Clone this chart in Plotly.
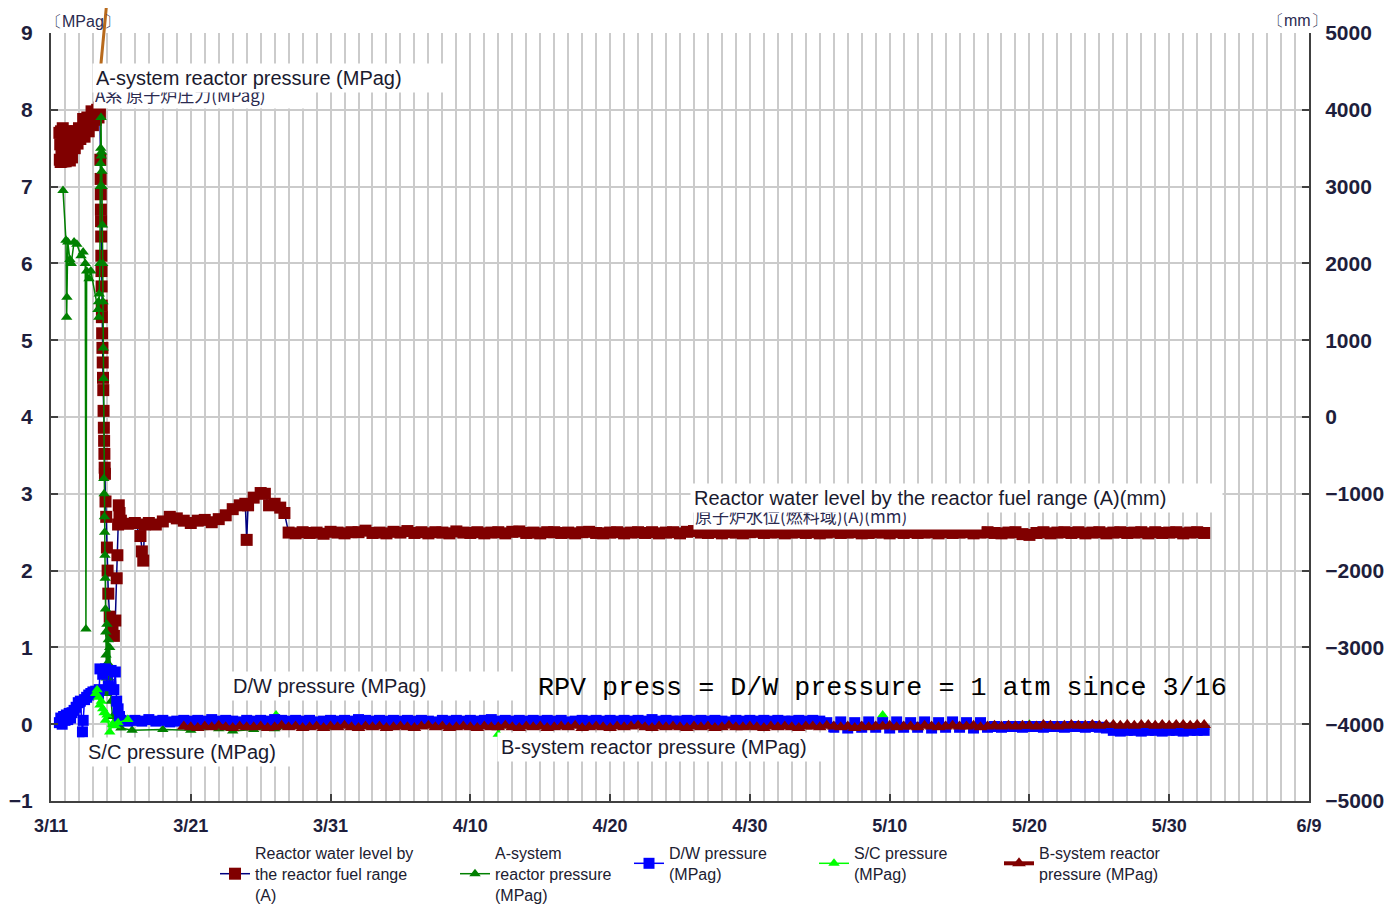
import pandas as pd
import plotly.graph_objects as go

BASE = pd.Timestamp("2011-03-11")

# ---------------- axis labels ----------------
x_tick_days = [0, 10, 20, 30, 40, 50, 60, 70, 80, 90]
x_tick_labels = ["3/11", "3/21", "3/31", "4/10", "4/20", "4/30", "5/10", "5/20", "5/30", "6/9"]
y_left_ticks = [-1, 0, 1, 2, 3, 4, 5, 6, 7, 8, 9]
y_right_ticks = [-5000, -4000, -3000, -2000, -1000, 0, 1000, 2000, 3000, 4000, 5000]

# ---------------- Reactor water level (fuel range A), mm ----------------
wl_day = [0.60, 0.63, 0.66, 0.69, 0.72, 0.75, 0.78, 0.81, 0.84, 0.87, 0.90, 0.95, 1.00, 1.05, 1.10,
          1.15, 1.20, 1.25, 1.30, 1.35, 1.40, 1.45, 1.50, 1.55, 1.60, 1.70, 1.80, 1.90, 2.00, 2.10,
          2.20, 2.30, 2.40, 2.50, 2.60, 2.70, 2.80, 2.90, 3.00, 3.10, 3.20, 3.30, 3.40, 3.45, 3.50,
          3.53, 3.55, 3.56, 3.57, 3.58, 3.59, 3.60, 3.61, 3.62, 3.63, 3.64, 3.66, 3.68, 3.70, 3.72,
          3.74, 3.76, 3.78, 3.80, 3.82, 3.84, 3.86, 3.90, 3.95, 4.00, 4.05, 4.10, 4.20, 4.30, 4.40,
          4.50, 4.60, 4.70, 4.75, 4.80, 4.85, 4.90,
          5.00, 5.50, 6.00, 6.40, 6.50, 6.60, 6.70, 7.00, 7.50, 8.00, 8.50, 9.00, 9.50, 10.00, 10.50,
          11.00, 11.50, 12.00, 12.50, 13.00, 13.50, 13.90, 14.00, 14.10, 14.50, 15.00, 15.30, 15.60,
          16.00, 16.40, 16.70]
wl_mm = [3700, 3350, 3550, 3320, 3720, 3450, 3330, 3600, 3760, 3400, 3330, 3650, 3500, 3330, 3720,
         3550, 3350, 3680, 3450, 3340, 3700, 3500, 3380, 3620, 3720, 3500, 3720, 3560, 3760, 3620,
         3700, 3880, 3650, 3800, 3900, 3720, 3850, 3980, 3800, 3950, 3870, 4000, 3900, 4030, 3950,
         3350, 3100, 2900, 2700, 2550, 2350, 2100, 1900, 1700, 1450, 1300, 1090, 900, 710, 510,
         350, 80, -140, -310, -480, -660, -740, -1100, -1300, -1700, -2000, -2300, -2600, -2780, -2700,
         -2850, -2650, -2100, -1800, -1400, -1150, -1250,
         -1350, -1390, -1380, -1550, -1750, -1870, -1400, -1380, -1400, -1360, -1300, -1320, -1350, -1380, -1350,
         -1340, -1370, -1330, -1280, -1200, -1150, -1130, -1600, -1150, -1050, -990, -1000, -1150,
         -1130, -1180, -1250]
# 12-hourly readings from 3/28 00:00 onward
wl_flat_start = 17.0
wl_flat_mm = [-1505, -1515, -1500, -1510, -1505, -1520, -1495, -1505, -1515, -1500,
              -1500, -1480, -1510, -1505, -1515, -1495, -1505, -1485, -1510, -1500,
              -1515, -1500, -1505, -1515, -1490, -1505, -1510, -1500, -1515, -1505,
              -1500, -1515, -1495, -1490, -1510, -1505, -1515, -1500, -1500, -1510,
              -1505, -1515, -1500, -1495, -1510, -1515, -1505, -1500, -1515, -1505,
              -1500, -1510, -1500, -1515, -1505, -1500, -1515, -1495, -1485, -1505,
              -1510, -1500, -1515, -1500, -1505, -1515, -1500, -1495, -1510, -1505,
              -1500, -1515, -1505, -1500, -1510, -1500, -1515, -1505, -1495, -1510,
              -1505, -1500, -1515, -1510, -1500, -1505, -1515, -1500, -1510, -1500,
              -1510, -1505, -1500, -1515, -1500, -1510, -1505, -1500, -1515, -1505,
              -1500, -1510, -1515, -1505, -1500, -1525, -1535, -1510, -1500, -1515,
              -1505, -1500, -1510, -1500, -1515, -1505, -1500, -1515, -1505, -1500,
              -1510, -1505, -1500, -1515, -1500, -1510, -1505, -1500, -1515, -1505,
              -1500, -1510]

# ---------------- A-system reactor pressure, MPag ----------------
a_day = [0.86, 1.07, 1.12, 1.14, 1.20, 1.35, 1.45, 1.65, 1.85, 2.15, 2.30, 2.45, 2.50, 2.55, 2.72,
         2.85, 3.36, 3.40, 3.42, 3.45, 3.50, 3.52, 3.54, 3.56, 3.58, 3.60, 3.62, 3.64, 3.66, 3.68,
         3.70, 3.72, 3.74, 3.76, 3.78, 3.80, 3.82, 3.84, 3.86, 3.88, 3.90, 3.92, 3.94, 3.96, 3.98,
         4.00, 4.05, 4.10, 4.15, 4.20, 4.25, 4.30, 4.40, 4.50, 5.00, 5.80, 8.00, 10.00, 12.00, 13.00,
         14.50, 16.00, 20.0, 30.0, 40.0, 50.0, 60.0, 70.0, 82.5]
a_mpa = [6.95, 6.30, 5.30, 5.56, 6.28, 6.05, 6.00, 6.28, 6.25, 6.10, 6.15, 6.00, 1.24, 5.90, 5.80,
         5.90, 5.40, 5.50, 5.30, 5.60, 6.00, 7.00, 7.30, 7.50, 7.90, 7.40, 7.45, 7.20, 7.00, 6.50,
         6.00, 5.50, 4.90, 4.50, 3.20, 3.00, 2.70, 2.50, 2.20, 1.90, 1.50, 1.20, 0.90, 0.60, 0.40,
         1.30, 0.80, 1.10, 0.60, 1.00, 0.50, 0.30, 0.10, 0.00, -0.05, -0.08, -0.07, -0.08, -0.06, -0.09,
         -0.07, -0.06, -0.04, -0.04, -0.04, -0.04, -0.04, -0.04, -0.04]

# ---------------- D/W pressure, MPag ----------------
dw_day = [0.60, 0.70, 0.80, 0.90, 1.00, 1.10, 1.20, 1.30, 1.40, 1.50, 1.65, 1.80, 1.95, 2.10, 2.25,
          2.30, 2.40, 2.55, 2.70, 2.85, 3.00, 3.20, 3.40, 3.45, 3.50, 3.70, 3.90, 4.10, 4.30, 4.50,
          4.60, 4.70, 4.80, 4.90]
dw_mpa = [0.02, 0.08, 0.00, 0.10, 0.05, 0.12, 0.06, 0.14, 0.08, 0.15, 0.18, 0.22, 0.28, 0.30, -0.10,
          0.05, 0.32, 0.35, 0.38, 0.40, 0.42, 0.43, 0.40, 0.45, 0.72, 0.65, 0.72, 0.50, 0.70, 0.45,
          0.68, 0.30, 0.20, 0.10]
# 12-hourly readings from 3/16 00:00 onward
dw_flat_start = 5.0
dw_flat_mpa = [0.05, 0.04, 0.05, 0.04, 0.06, 0.04, 0.05, 0.03, 0.04, 0.05,
               0.04, 0.05, 0.04, 0.06, 0.04, 0.05, 0.04, 0.03, 0.05, 0.04,
               0.05, 0.04, 0.06, 0.05, 0.04, 0.05, 0.04, 0.05, 0.03, 0.04,
               0.05, 0.04, 0.05, 0.04, 0.06, 0.05, 0.04, 0.05, 0.04, 0.05,
               0.04, 0.05, 0.04, 0.05, 0.04, 0.03, 0.05, 0.04, 0.05, 0.04,
               0.05, 0.04, 0.05, 0.06, 0.04, 0.05, 0.04, 0.05, 0.04, 0.05,
               0.04, 0.05, 0.04, 0.05, 0.03, 0.04, 0.05, 0.04, 0.05, 0.04,
               0.05, 0.04, 0.05, 0.04, 0.05, 0.04, 0.06, 0.04, 0.05, 0.04,
               0.04, 0.05, 0.04, 0.05, 0.04, 0.05, 0.04, 0.03, 0.05, 0.04,
               0.05, 0.04, 0.05, 0.04, 0.05, 0.04, 0.04, 0.05, 0.04, 0.05,
               0.04,
               0.02, -0.04, 0.03, -0.05, 0.02, -0.04, 0.03, -0.04, 0.02, -0.05, 0.03, -0.04,
               0.02, -0.04, 0.03, -0.05, 0.02, -0.04, 0.03, -0.04, 0.02, -0.05, 0.02, -0.04,
               -0.03, -0.04, -0.03, -0.03, -0.04, -0.03, -0.03, -0.04, -0.03, -0.03, -0.04, -0.03,
               -0.03, -0.04, -0.03, -0.04, -0.05,
               -0.08, -0.09, -0.08, -0.08, -0.09, -0.08, -0.08, -0.09, -0.08, -0.08, -0.09, -0.08,
               -0.08, -0.08]

# ---------------- S/C pressure, MPag ----------------
sc_day_early = [3.20, 3.30, 3.40, 3.50, 3.60, 3.70, 3.80, 3.90, 4.00, 4.20, 4.40, 4.60, 4.80, 5.50]
sc_mpa_early = [0.40, 0.45, 0.35, 0.25, 0.30, 0.20, 0.15, 0.05, 0.12, -0.10, 0.00, -0.02, 0.02, 0.06]
sc_day_late = [5.50, 6.00, 8.00, 12.00, 16.00, 16.10, 16.30, 25.0, 31.9, 32.0, 32.2, 45.0, 59.4, 59.5,
               59.7, 70.0, 82.5]
sc_mpa_late = [0.06, 0.02, 0.03, 0.03, 0.02, 0.12, 0.02, 0.00, 0.00, -0.13, -0.02, 0.00, 0.02, 0.12,
               0.02, 0.00, -0.02]

# ---------------- B-system reactor pressure, MPag (12-hourly from 3/20 12:00) ----------------
b_start = 9.5
b_mpa = [-0.03, -0.04, -0.05, -0.03, -0.04, -0.02, -0.04, -0.05, -0.03, -0.04,
         -0.04, -0.03, -0.05, -0.04, -0.02, -0.04, -0.03, -0.05, -0.04, -0.03,
         -0.05, -0.03, -0.04, -0.02, -0.04, -0.05, -0.03, -0.04, -0.03, -0.05,
         -0.04, -0.03, -0.04, -0.05, -0.03, -0.02, -0.04, -0.03, -0.05, -0.04,
         -0.03, -0.04, -0.05, -0.03, -0.04, -0.04, -0.02, -0.04, -0.05, -0.03,
         -0.04, -0.03, -0.05, -0.04, -0.03, -0.04, -0.02, -0.05, -0.04, -0.03,
         -0.04, -0.05, -0.03, -0.04, -0.03, -0.02, -0.04, -0.05, -0.03, -0.04,
         -0.03, -0.04, -0.05, -0.03, -0.04, -0.03, -0.05, -0.04, -0.02, -0.04,
         -0.04, -0.03, -0.04, -0.05, -0.03, -0.04, -0.03, -0.04, -0.05, -0.03,
         -0.03, -0.04, -0.02, -0.03, -0.04, -0.03, -0.05, -0.03, -0.04, -0.03,
         -0.03, -0.02, -0.04, -0.03, -0.03, -0.04, -0.02, -0.03, -0.04, -0.03,
         -0.02, -0.03, -0.03, -0.02, -0.04, -0.03, -0.02, -0.03, -0.02, -0.03,
         -0.02, -0.02, -0.03, -0.01, -0.02, -0.03, -0.02, -0.01, -0.02, -0.02,
         -0.01, -0.02, -0.01, -0.01, -0.02, -0.01, -0.02, -0.01, -0.01, -0.02,
         -0.01, -0.02, -0.01, -0.01, -0.02, -0.01, -0.01]


def to_dates(days):
    return [BASE + pd.Timedelta(days=d) for d in days]


def half_daily(start, n):
    return list(pd.date_range(BASE + pd.Timedelta(days=start), periods=n, freq="12h"))


wl_x = to_dates(wl_day) + half_daily(wl_flat_start, len(wl_flat_mm))
wl_y = wl_mm + wl_flat_mm
dw_x = to_dates(dw_day) + half_daily(dw_flat_start, len(dw_flat_mpa))
dw_y = dw_mpa + dw_flat_mpa
b_x = half_daily(b_start, len(b_mpa))

DARKRED = "#800000"
GREEN = "#008000"
BLUE = "#0000ff"
LIME = "#00ff00"
NAVY = "#000080"
FONT = "Liberation Sans"

fig = go.Figure()

# water level on the base (mm) axis -> drawn underneath
fig.add_trace(go.Scatter(
    x=wl_x, y=wl_y, yaxis="y", mode="lines+markers",
    name="Reactor water level by<br>the reactor fuel range<br>(A)",
    line=dict(color=NAVY, width=1.5),
    marker=dict(symbol="square", size=12, color=DARKRED),
    legendrank=1, legendwidth=195))

fig.add_trace(go.Scatter(
    x=to_dates(a_day), y=a_mpa, yaxis="y2", mode="lines+markers",
    name="A-system<br>reactor pressure<br>(MPag)",
    line=dict(color=GREEN, width=1.5),
    marker=dict(symbol="triangle-up", size=10, color=GREEN),
    legendrank=2, legendwidth=129))

fig.add_trace(go.Scatter(
    x=to_dates(sc_day_late), y=sc_mpa_late, yaxis="y2", mode="lines+markers",
    name="S/C pressure<br>(MPag)", legendgroup="sc", showlegend=False,
    line=dict(color=LIME, width=1.5),
    marker=dict(symbol="triangle-up", size=10, color=LIME)))

fig.add_trace(go.Scatter(
    x=dw_x, y=dw_y, yaxis="y2", mode="lines+markers",
    name="D/W pressure<br>(MPag)",
    line=dict(color=BLUE, width=1.5),
    marker=dict(symbol="square", size=11, color=BLUE),
    legendrank=3, legendwidth=140))

fig.add_trace(go.Scatter(
    x=to_dates(sc_day_early), y=sc_mpa_early, yaxis="y2", mode="lines+markers",
    name="S/C pressure<br>(MPag)", legendgroup="sc",
    line=dict(color=LIME, width=1.5),
    marker=dict(symbol="triangle-up", size=10, color=LIME),
    legendrank=4, legendwidth=140))

fig.add_trace(go.Scatter(
    x=b_x, y=b_mpa, yaxis="y2", mode="lines+markers",
    name="B-system reactor<br>pressure (MPag)",
    line=dict(color=DARKRED, width=4),
    marker=dict(symbol="triangle-up", size=12, color=DARKRED),
    legendrank=5, legendwidth=140))

# ---------------- layout ----------------
# page (screenshot) coordinates of the plot area; the page body adds an 8 px margin
OFF = 8
L, R, T, B = 51, 1309, 33, 801
W, H = 1393 - 2 * OFF, 906 - OFF


def px(x):
    return (x - L) / (R - L)


def py(y):
    return (B - y) / (B - T)


GRID = "#cbcbcb"
AXIS = "#404040"
TICKCOL = "#1e1e3c"

annotations = []


def label(text, x, y, size=20, bg="white", width=None, family=FONT, color="#1a1a2e", pad=1):
    d = dict(text=text, xref="paper", yref="paper", x=px(x), y=py(y), xanchor="left",
             yanchor="middle", showarrow=False, font=dict(family=family, size=size, color=color),
             align="left", borderpad=pad)
    if bg:
        d["bgcolor"] = bg
    if width:
        d["width"] = width
    annotations.append(d)


# partially hidden Japanese captions first, English captions drawn over them
label("A系 原子炉圧力(MPag)", 93, 95, size=17, width=210, family="Noto Sans CJK JP", color="#2a2a50")
label("A-system reactor pressure (MPag)", 92, 78, size=20, width=352, pad=3)
label("原子炉水位(燃料域)(A)(mm)", 693, 515, size=17, width=285, family="Noto Sans CJK JP", color="#2a2a50")
label("Reactor water level by the reactor fuel range (A)(mm)", 690, 498, size=20, width=525, pad=3)
label("D/W pressure (MPag)", 229, 686, size=20, width=286, pad=3)
label("S/C pressure (MPag)", 84, 752, size=20, width=206, pad=3)
label("B-system reactor pressure (MPag)", 497, 747, size=20, width=325, pad=3)
label("RPV press = D/W pressure = 1 atm since 3/16", 536, 688, size=26.7, bg=None,
      family="Liberation Mono", color="#000000")
label("〔MPag〕", 44, 22, size=16, bg=None, color="#2a2a50")
label("〔mm〕", 1266, 20, size=16, bg=None, color="#2a2a50")

shapes = [dict(type="line", xref="paper", yref="paper",
               x0=px(107), y0=py(0), x1=px(100), y1=py(74),
               line=dict(color="#b86a1c", width=3))]

fig.update_layout(
    width=W, height=H,
    margin=dict(l=L - OFF, r=W - (R - OFF), t=T - OFF, b=H - (B - OFF), autoexpand=False),
    paper_bgcolor="white", plot_bgcolor="white",
    showlegend=True,
    legend=dict(orientation="h", x=px(215), y=py(836), xanchor="left", yanchor="top",
                font=dict(family=FONT, size=16, color="#202030"), valign="middle",
                bgcolor="rgba(0,0,0,0)", traceorder="normal", itemwidth=30),
    xaxis=dict(type="date",
               range=[BASE, BASE + pd.Timedelta(days=90)],
               tickmode="array",
               tickvals=to_dates(x_tick_days), ticktext=x_tick_labels,
               showgrid=True, gridcolor=GRID, gridwidth=2,
               minor=dict(dtick=86400000, showgrid=True, gridcolor=GRID, gridwidth=2, ticks=""),
               showline=True, linecolor=AXIS, linewidth=2,
               ticks="inside", ticklen=7, tickwidth=2, tickcolor=AXIS,
               tickfont=dict(family=FONT, size=18, color=TICKCOL, weight="bold"),
               ticklabelstandoff=7, zeroline=False, automargin=False),
    yaxis=dict(range=[-5000, 5000], tickmode="array", tickvals=y_right_ticks,
               side="right", showgrid=False, zeroline=False,
               showline=True, linecolor=AXIS, linewidth=2,
               ticks="inside", ticklen=7, tickwidth=2, tickcolor=AXIS,
               tickfont=dict(family=FONT, size=21, color=TICKCOL, weight="bold"),
               ticklabelstandoff=10, automargin=False),
    yaxis2=dict(range=[-1, 9], tickmode="array", tickvals=y_left_ticks,
                overlaying="y", side="left",
                showgrid=True, gridcolor=GRID, gridwidth=2, zeroline=False,
                showline=True, linecolor=AXIS, linewidth=2,
                ticks="inside", ticklen=7, tickwidth=2, tickcolor=AXIS,
                tickfont=dict(family=FONT, size=21, color=TICKCOL, weight="bold"),
                ticklabelstandoff=12, automargin=False),
    annotations=annotations,
    shapes=shapes,
)

fig.write_html("out.html")
